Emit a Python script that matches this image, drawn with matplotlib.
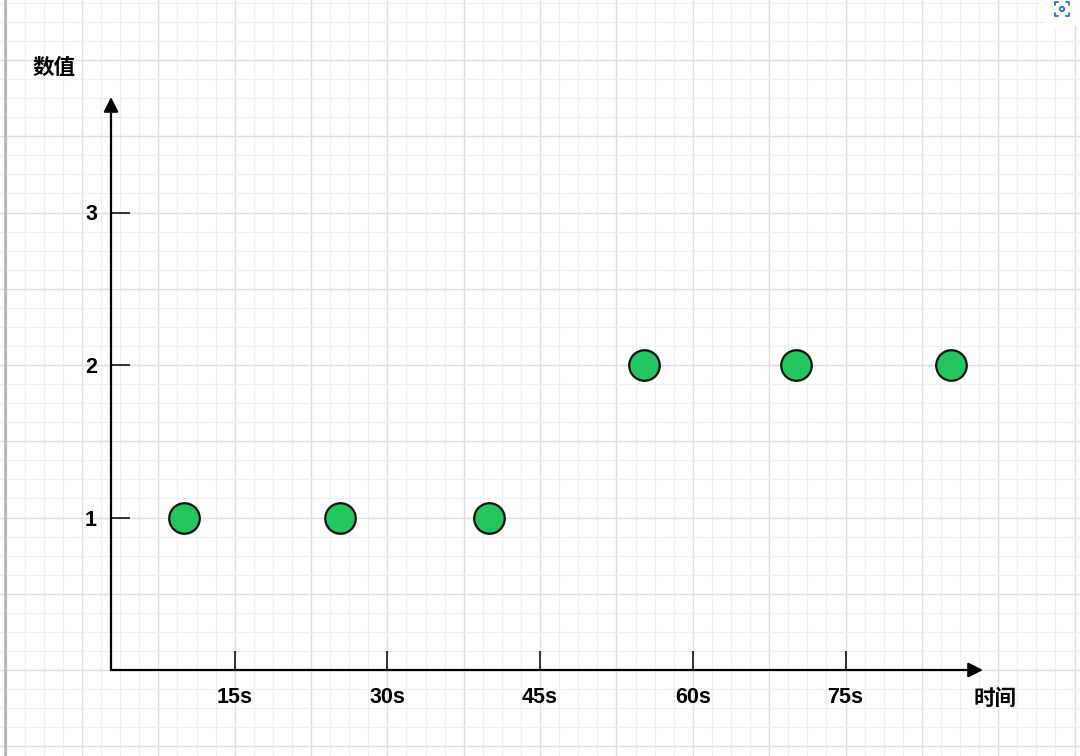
import matplotlib.pyplot as plt
from matplotlib.ticker import MultipleLocator
from matplotlib.patches import Circle

plt.rcParams['font.family'] = ['Noto Sans CJK SC', 'DejaVu Sans']

# data
x_vals = [10, 25.3, 40, 55.2, 70.1, 85.4]
y_vals = [1, 1, 1, 2, 2, 2]
x_ticks = [15, 30, 45, 60, 75]
x_ticklabels = ['15s', '30s', '45s', '60s', '75s']
y_ticks = [1, 2, 3]
y_ticklabels = ['1', '2', '3']

W, H = 1080, 756
sx = 152.7 / 15    # px per second
sy = 152.5         # px per unit
x0px, y0px = 82, 670   # pixel of (0, 0)

fig = plt.figure(figsize=(W / 100, H / 100), dpi=100)
fig.patch.set_facecolor('white')

# background grid paper
bg = fig.add_axes([0, 0, 1, 1])
bg.set_xlim((0 - x0px) / sx, (W - x0px) / sx)
bg.set_ylim((y0px - H) / sy, y0px / sy)
bg.xaxis.set_major_locator(MultipleLocator(7.5))
bg.xaxis.set_minor_locator(MultipleLocator(1.875))
bg.yaxis.set_major_locator(MultipleLocator(0.5))
bg.yaxis.set_minor_locator(MultipleLocator(0.125))
bg.grid(which='major', color='#dedede', linewidth=1.0)
bg.grid(which='minor', color='#efefef', linewidth=0.8)
bg.tick_params(which='both', length=0, labelbottom=False, labelleft=False)
for s in bg.spines.values():
    s.set_visible(False)
bg.axvline((5 - x0px) / sx, color='#b5b5b5', linewidth=2)

# screenshot button in the corner (pixel coords via a helper axes)
ic = fig.add_axes([0, 0, 1, 1])
ic.set_xlim(0, W)
ic.set_ylim(H, 0)
ic.axis('off')
ic.patch.set_alpha(0)
ic.add_patch(Circle((1062, 8), 22, facecolor='white', edgecolor='none'))
cx, cy, r, b = 1062, 9, 7, 3
for dx in (-1, 1):
    for dy in (-1, 1):
        ic.plot([cx + dx * r, cx + dx * r, cx + dx * (r - b)],
                [cy + dy * (r - b), cy + dy * r, cy + dy * r],
                color='#2f6fd6', lw=1.3, solid_capstyle='round')
ic.add_patch(Circle((cx, cy), 2.2, facecolor='none', edgecolor='#2f6fd6', lw=1.3))

# main axes
ax_left, ax_right, ax_top = 111, 983, 97
ax = fig.add_axes([ax_left / W, (H - y0px) / H,
                   (ax_right - ax_left) / W, (y0px - ax_top) / H])
ax.patch.set_alpha(0)
ax.set_xlim((ax_left - x0px) / sx, (ax_right - x0px) / sx)
ax.set_ylim(0, (y0px - ax_top) / sy)
for s in ax.spines.values():
    s.set_visible(False)

ax.annotate('', xy=(1, 0), xytext=(0, 0), xycoords='axes fraction',
            arrowprops=dict(arrowstyle='-|>', color='black', lw=1.6,
                            mutation_scale=22, shrinkA=0, shrinkB=0))
ax.annotate('', xy=(0, 1), xytext=(0, 0), xycoords='axes fraction',
            arrowprops=dict(arrowstyle='-|>', color='black', lw=1.6,
                            mutation_scale=22, shrinkA=0, shrinkB=0))

tick_font = dict(family=['Liberation Sans', 'DejaVu Sans'], fontweight='bold', fontsize=15.5)
ax.set_xticks(x_ticks)
ax.set_xticklabels(x_ticklabels, **tick_font)
ax.set_yticks(y_ticks)
ax.set_yticklabels(y_ticklabels, **tick_font)
ax.tick_params(axis='both', direction='in', length=14, width=1.3, color='#222222')
ax.tick_params(axis='x', pad=12)
ax.tick_params(axis='y', pad=10)

ax.plot(x_vals, y_vals, 'o', markersize=22, markerfacecolor='#22c55e',
        markeredgecolor='#111111', markeredgewidth=1.6, clip_on=False)

fig.text(54 / W, 1 - 67 / H, '数值', ha='center', va='center',
         fontsize=15.5, fontweight='bold')
fig.text(995 / W, 1 - 698 / H, '时间', ha='center', va='center',
         fontsize=15.5, fontweight='bold')

fig.savefig('out.png', dpi=100)
